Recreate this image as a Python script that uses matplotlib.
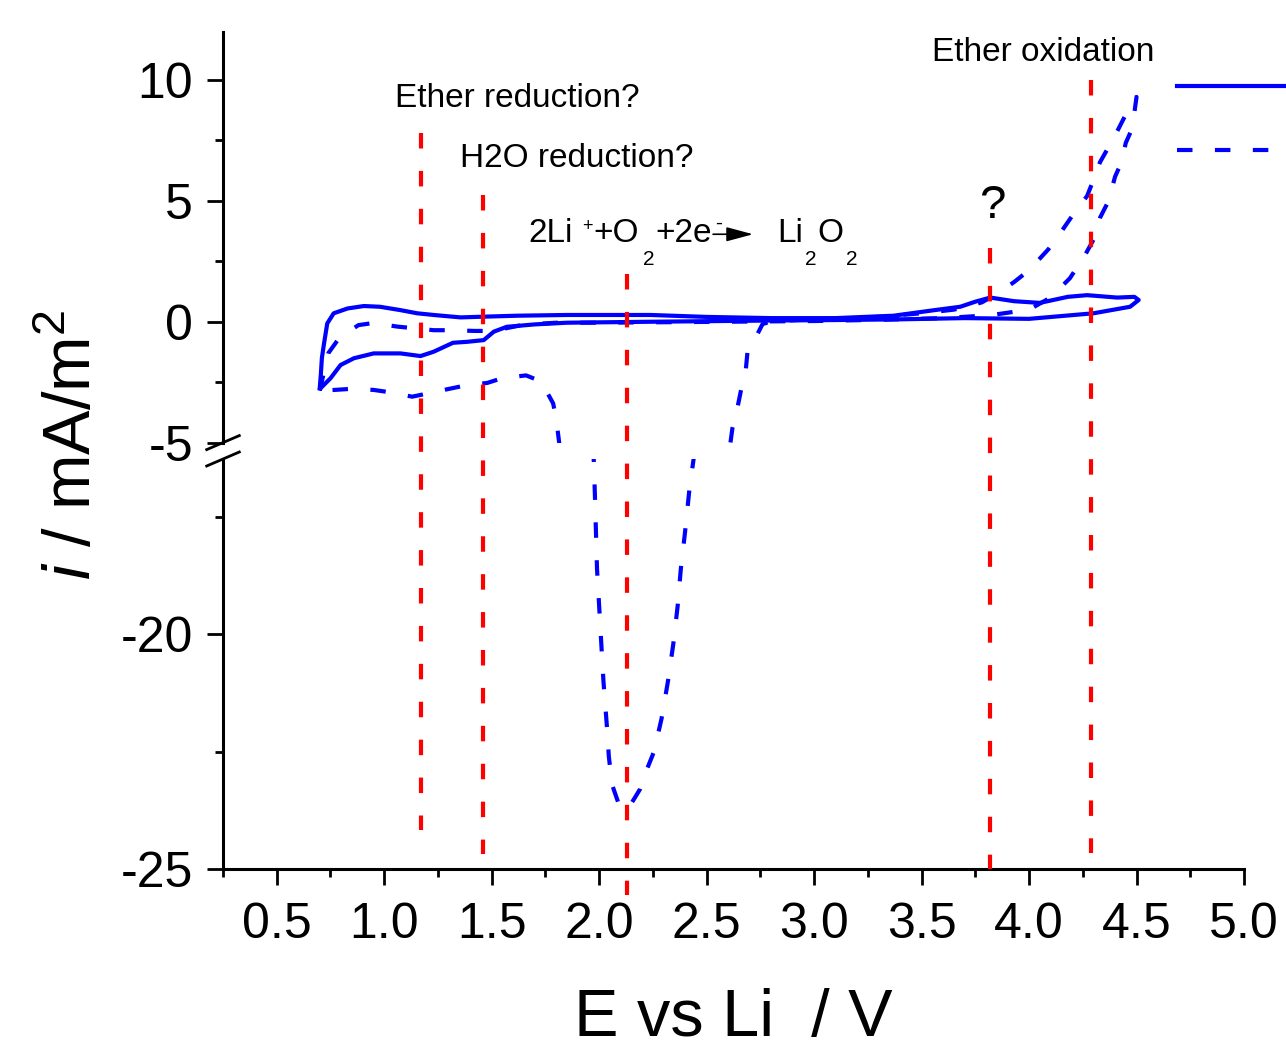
import numpy as np
import matplotlib
matplotlib.use("Agg")
import matplotlib.pyplot as plt
from matplotlib.lines import Line2D
from matplotlib.transforms import IdentityTransform
from matplotlib.ticker import MultipleLocator

plt.rcParams['font.family'] = ['Liberation Sans', 'DejaVu Sans']
plt.rcParams['mathtext.fontset'] = 'custom'
plt.rcParams['mathtext.rm'] = 'Liberation Sans'
plt.rcParams['mathtext.it'] = 'Liberation Sans:italic'
plt.rcParams['mathtext.default'] = 'regular'
plt.rcParams['axes.unicode_minus'] = False

BLUE = "#0000FF"
RED = "#FF0000"
W, H = 1286, 1052
DASH = (0, (3.72, 5.38))

# CV without O2 (solid): anodic sweep then back
solid_E = [0.70, 0.705, 0.71, 0.72, 0.735, 0.765, 0.83, 0.905, 0.98, 1.076, 1.153, 1.23,
           1.355, 1.463, 1.62, 1.85, 2.24, 2.5, 2.8, 3.1, 3.37, 3.56, 3.68, 3.75, 3.82,
           3.93, 4.05, 4.18, 4.27, 4.41, 4.49, 4.51, 4.47, 4.30, 4.0, 3.7, 3.4, 3.1,
           2.8, 2.24, 1.85, 1.70, 1.57, 1.51, 1.463, 1.386, 1.32, 1.23, 1.169, 1.076,
           0.951, 0.859, 0.797, 0.75, 0.704]
solid_i = [-2.75, -2.2, -1.5, -0.9, -0.07, 0.35, 0.55, 0.65, 0.62, 0.48, 0.35, 0.28,
           0.18, 0.21, 0.25, 0.28, 0.28, 0.2, 0.15, 0.15, 0.25, 0.48, 0.62, 0.83, 1.0,
           0.85, 0.78, 1.03, 1.1, 1.0, 1.03, 0.9, 0.62, 0.35, 0.12, 0.15, 0.1, 0.07,
           0.05, 0.0, -0.04, -0.11, -0.21, -0.41, -0.76, -0.83, -0.87, -1.24, -1.42, -1.31,
           -1.31, -1.51, -1.79, -2.34, -2.75]

# CV with O2 (dashed)
dash_E = [0.70, 0.74, 0.79, 0.88, 0.95, 1.06, 1.14, 1.23, 1.31, 1.42, 1.48, 1.55, 1.65,
          1.8, 2.0, 2.3, 2.6, 3.0, 3.3, 3.6, 3.82, 4.0, 4.1, 4.19, 4.26, 4.30, 4.33, 4.37,
          4.40, 4.43, 4.45, 4.48, 4.50, 4.49, 4.44, 4.40, 4.33, 4.31, 4.27, 4.21, 4.14,
          4.09, 4.00, 3.93, 3.85, 3.78, 3.65, 3.5, 3.3, 3.0, 2.8, 2.76, 2.73, 2.69, 2.68,
          2.66, 2.64, 2.62, 2.44, 2.42, 2.40, 2.38, 2.365, 2.345, 2.32, 2.29, 2.255, 2.22,
          2.19, 2.15, 2.12, 2.09, 2.06, 2.045, 2.035, 2.02, 2.01, 2.0, 1.99, 1.985, 1.98,
          1.975, 1.80, 1.786, 1.73, 1.66, 1.55, 1.48, 1.37, 1.30, 1.19, 1.13, 1.02, 0.95,
          0.84, 0.77, 0.70]
dash_i = [-2.85, -1.3, -0.68, -0.14, -0.05, -0.2, -0.27, -0.35, -0.35, -0.38, -0.38, -0.3, -0.12,
          -0.04, -0.04, -0.02, 0.0, 0.03, 0.08, 0.15, 0.27, 0.5, 1.0, 1.8, 2.75, 3.4, 4.3, 5.0,
          6.0, 6.6, 7.4, 8.0, 9.3, 9.25, 8.4, 7.7, 6.6, 6.1, 5.2, 4.5, 3.6,
          3.0, 2.13, 1.64, 1.15, 0.8, 0.5, 0.35, 0.2, 0.1, 0.02, -0.1, -0.62, -1.25, -2.2,
          -2.83, -3.7, -4.4, -16.24, -16.9, -17.8, -18.6, -19.4, -20.2, -21.0, -21.8, -22.5, -22.9,
          -23.3, -23.6, -23.75, -23.6, -23.2, -22.6, -21.9, -21.0, -20.2, -19.4, -18.6, -17.8, -17.0,
          -16.3, -4.02, -3.38, -2.47, -2.22, -2.33, -2.53, -2.65, -2.78, -2.99, -3.1, -2.91, -2.82,
          -2.78, -2.82, -2.85]

# red marker lines: position, top (upper scale), bottom (lower scale)
red_x = [1.17, 1.46, 2.13, 3.82, 4.29]
red_top = [7.8, 5.25, 1.98, 3.04, 10.0]
red_bot = [-24.17, -24.68, -25.55, -25.0, -24.66]

x_ticks = [0.5, 1.0, 1.5, 2.0, 2.5, 3.0, 3.5, 4.0, 4.5, 5.0]
x_ticklabels = ["0.5", "1.0", "1.5", "2.0", "2.5", "3.0", "3.5", "4.0", "4.5", "5.0"]

fig = plt.figure(figsize=(12.86, 10.52), dpi=100)
ax_up = fig.add_axes([0.17341, 0.57928, 0.79393, 0.39059])
ax_lo = fig.add_axes([0.17341, 0.17395, 0.79393, 0.38973])

for ax in (ax_up, ax_lo):
    ax.plot(solid_E, solid_i, color=BLUE, lw=3.0, label="Ar")
    ax.plot(dash_E, dash_i, color=BLUE, lw=3.0, ls=DASH, label="O2")
    ax.set_xlim(0.25, 5.0)
    ax.spines['top'].set_visible(False)
    ax.spines['right'].set_visible(False)
    ax.spines['left'].set_linewidth(2.2)
    ax.spines['bottom'].set_linewidth(2.2)
    ax.yaxis.set_major_locator(MultipleLocator(5))
    ax.yaxis.set_minor_locator(MultipleLocator(2.5))
    ax.tick_params(which='major', direction='out', length=11.5, width=2.0, labelsize=36, pad=10)
    ax.tick_params(which='minor', direction='out', length=6, width=2.0)
    ax.patch.set_alpha(0)

ax_up.set_ylim(-5, 12)
ax_lo.set_ylim(-25, -16.26)
ax_up.spines['bottom'].set_visible(False)
ax_up.tick_params(axis='x', which='both', bottom=False, labelbottom=False)

ax_lo.set_xticks(x_ticks)
ax_lo.set_xticklabels(x_ticklabels)
ax_lo.xaxis.set_minor_locator(MultipleLocator(0.25))
ax_lo.tick_params(axis='x', which='major', pad=12)
ax_lo.set_xlabel("E vs Li  / V", fontsize=48, labelpad=29)

fig.text(74 / W, 0.577, r"$\mathit{i}$ / mA/m$^2$", rotation=90, fontsize=48,
         ha='center', va='center')

# axis break marks
dx = 16.3 / (0.79393 * W)
for ax, h in ((ax_up, 0.39059), (ax_lo, 0.38973)):
    dy = 7.0 / (h * H)
    y0 = 0.0 if ax is ax_up else 1.0
    ax.plot([-dx, dx], [y0 - dy, y0 + dy], transform=ax.transAxes, color='k',
            lw=2.0, clip_on=False)

# red dashed lines spanning the break
for x, yt, yb in zip(red_x, red_top, red_bot):
    p0 = ax_up.transData.transform((x, yt))
    p1 = ax_lo.transData.transform((x, yb))
    fig.add_artist(Line2D([p0[0], p1[0]], [p0[1], p1[1]], transform=IdentityTransform(),
                          color=RED, lw=3.0, ls=DASH, zorder=5))

# annotations
ax_up.text(1.052, 8.87, "Ether reduction?", fontsize=24, ha='left', va='baseline')
ax_up.text(1.354, 6.39, "H2O reduction?", fontsize=24, ha='left', va='baseline')
ax_up.text(3.549, 10.77, "Ether oxidation", fontsize=24, ha='left', va='baseline')
ax_up.text(3.827, 4.29, "?", fontsize=34, ha='center', va='baseline')

renderer = fig.canvas.get_renderer()


def chem(x, y, parts):
    # parts: (text, fontsize, baseline shift px, x shift px)
    px, py = ax_up.transData.transform((x, y))
    for s, size, dy, dxp in parts:
        t = fig.text((px + dxp) / W, (py + dy) / H, s, fontsize=size, ha='left', va='baseline')
        px = t.get_window_extent(renderer).x1


chem(1.671, 3.29, [("2Li", 24, 0, 0), ("+", 13, 11, 9), ("+O", 24, 0, 1), ("2", 15, -23, 4),
                   ("+2e", 24, 0, 1), ("-", 15, 13, 3)])
chem(2.828, 3.29, [("Li", 24, 0, 0), ("2", 15, -23, 2), ("O", 24, 0, 1), ("2", 15, -23, 2)])
ax_up.annotate("", xy=(2.716, 3.62), xytext=(2.53, 3.62),
               arrowprops=dict(arrowstyle='-|>,head_length=0.82,head_width=0.22',
                               color='k', lw=1.2, shrinkA=0, shrinkB=0, mutation_scale=20))

handles, labels = ax_up.get_legend_handles_labels()
ax_up.legend(handles, ["", ""], loc='upper left', bbox_to_anchor=(1177 / W, 1 - 67 / H),
             bbox_transform=fig.transFigure, frameon=False, fontsize=36, handlelength=2.4,
             borderpad=0, borderaxespad=0, labelspacing=0.36, handletextpad=0.0)

fig.savefig("out.png", dpi=100)
